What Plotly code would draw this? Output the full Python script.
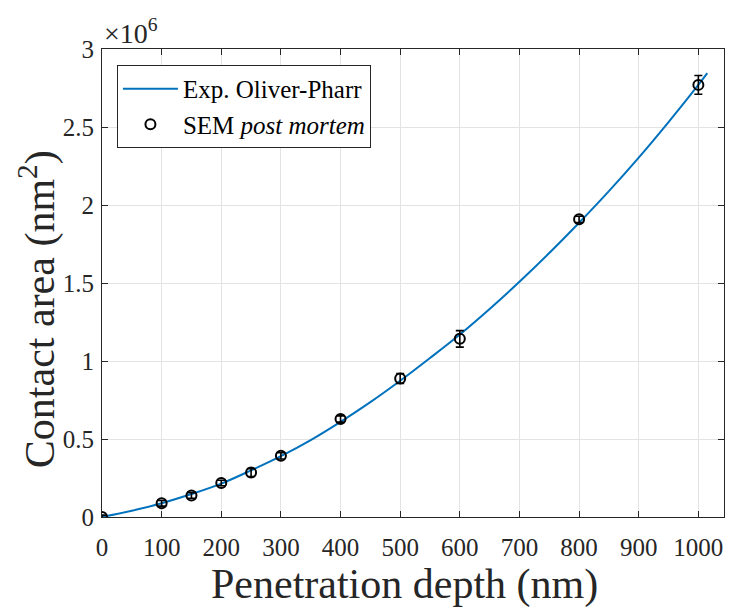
import plotly.graph_objects as go

# SEM post mortem measurements (depth in nm, area in 1e6 nm^2)
sem_depth = [0, 100, 150, 200, 250, 300, 400, 500, 600, 800, 1000]
sem_area = [0.0, 0.088, 0.138, 0.218, 0.285, 0.392, 0.628, 0.888, 1.142, 1.908, 2.770]
sem_err = [0.012, 0.018, 0.018, 0.018, 0.025, 0.02, 0.02, 0.032, 0.053, 0.02, 0.06]

op_depth = [0, 50, 100, 150, 200, 250, 300, 350, 400, 450, 500, 550, 600, 650, 700,
            750, 800, 850, 900, 950, 1000, 1015]
op_area = [0.0, 0.040, 0.088, 0.147, 0.214, 0.299, 0.390, 0.493, 0.610, 0.736, 0.873,
           1.019, 1.170, 1.334, 1.508, 1.692, 1.886, 2.089, 2.304, 2.532, 2.770, 2.845]

x_ticks = [0, 100, 200, 300, 400, 500, 600, 700, 800, 900, 1000]
y_ticks = [0, 0.5, 1, 1.5, 2, 2.5, 3]
y_tick_labels = ["0", "0.5", "1", "1.5", "2", "2.5", "3"]

font_family = "Liberation Serif, Times New Roman, serif"
ink = "#262626"

fig = go.Figure()
fig.add_trace(go.Scatter(
    x=op_depth, y=op_area, mode="lines", name="Exp. Oliver-Pharr",
    line=dict(color="#0072BD", width=2, shape="spline"),
))
fig.add_trace(go.Scatter(
    x=sem_depth, y=sem_area, mode="markers", name="SEM <i>post mortem</i>",
    marker=dict(symbol="circle-open", size=10, color="black", line=dict(width=2, color="black")),
    error_y=dict(type="data", array=sem_err, visible=True, color="black", thickness=1.6, width=4),
))

axis_common = dict(
    showline=True, linecolor=ink, linewidth=1, mirror="allticks",
    ticks="inside", ticklen=6, tickcolor=ink,
    showgrid=True, gridcolor="#E3E3E3", gridwidth=1, zeroline=False,
    tickfont=dict(family=font_family, size=25, color=ink),
    automargin=False,
)

fig.update_xaxes(range=[0, 1043], tickvals=x_ticks, ticklabelstandoff=8, **axis_common)
fig.update_yaxes(range=[0, 3], tickvals=y_ticks, ticktext=y_tick_labels, ticklabelstandoff=2, **axis_common)

title_font = dict(family=font_family, size=42, color=ink)
fig.add_annotation(
    x=0.486, y=-0.145, xref="paper", yref="paper", xanchor="center", yanchor="middle",
    text="Penetration depth (nm)", showarrow=False, font=title_font,
)
fig.add_annotation(
    x=-0.103, y=0.444, xref="paper", yref="paper", xanchor="center", yanchor="middle",
    text="Contact area (nm<sup>2</sup>)", showarrow=False, font=title_font, textangle=-90,
)
fig.add_annotation(
    x=0, y=1, xref="paper", yref="paper", xanchor="left", yanchor="bottom",
    text="×10<sup>6</sup>", showarrow=False,
    font=dict(family=font_family, size=28, color=ink), xshift=0, yshift=-2,
)

fig.update_layout(
    width=730, height=608,
    margin=dict(l=102, r=6, t=49, b=91),
    paper_bgcolor="white", plot_bgcolor="white",
    showlegend=True,
    legend=dict(
        x=0.024, y=0.966, xanchor="left", yanchor="top",
        bgcolor="white", bordercolor=ink, borderwidth=1,
        font=dict(family=font_family, size=25, color="black"),
        tracegroupgap=0, itemwidth=55,
    ),
)

fig.write_html(
    "out.html",
    config={"displayModeBar": False},
    post_script="document.body.style.margin='0';document.body.style.padding='0';",
)
